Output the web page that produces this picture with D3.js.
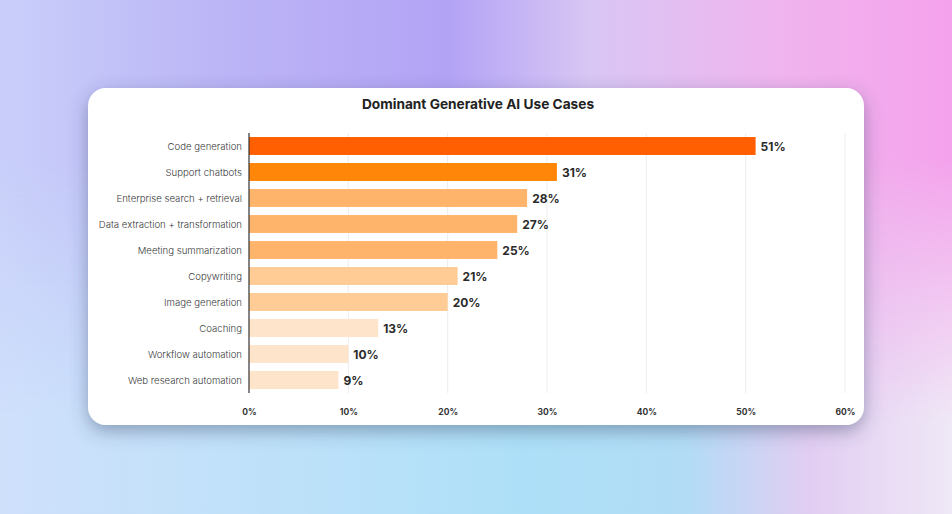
<!DOCTYPE html>
<html>
<head>
<meta charset="utf-8">
<script src="https://cdn.jsdelivr.net/npm/d3@7"></script>
<style>
  html, body { margin: 0; padding: 0; }
  body {
    width: 952px; height: 514px; overflow: hidden;
    background: #c9cffa;
    font-family: Inter, "Open Sans", sans-serif;
  }
</style>
</head>
<body>
<div id="chart"></div>
<script>
const categories = [
  "Code generation",
  "Support chatbots",
  "Enterprise search + retrieval",
  "Data extraction + transformation",
  "Meeting summarization",
  "Copywriting",
  "Image generation",
  "Coaching",
  "Workflow automation",
  "Web research automation"
];
const shares = [51, 31, 28, 27, 25, 21, 20, 13, 10, 9];
const barColors = [
  "#ff5f00", "#ff8608", "#ffb46c", "#ffb46c", "#ffb46c",
  "#ffcc96", "#ffcc96", "#fde4ca", "#fde4ca", "#fde4ca"
];
const xTicks = [0, 10, 20, 30, 40, 50, 60];
const title = "Dominant Generative AI Use Cases";

const data = categories.map((c, i) => ({ name: c, value: shares[i], color: barColors[i] }));

const width = 952, height = 514;
const card = { x: 88, y: 88, w: 776, h: 337, r: 18 };
const plot = { left: 249, right: 845, top: 133, bottom: 393 };

const svg = d3.select("#chart").append("svg")
  .attr("width", width)
  .attr("height", height)
  .style("display", "block");

const defs = svg.append("defs");

// background: top hues fading into bottom hues
const topGrad = defs.append("linearGradient").attr("id", "bgTop");
[["0%", "#c9cffa"], ["22%", "#bcb6f6"], ["47%", "#b3a3f5"], ["62%", "#d8c6f4"],
 ["82%", "#f0b4ee"], ["100%", "#f5a2ec"]]
  .forEach(([o, c]) => topGrad.append("stop").attr("offset", o).attr("stop-color", c));

const botGrad = defs.append("linearGradient").attr("id", "bgBot");
[["0%", "#cfe0fb"], ["30%", "#bde1f9"], ["55%", "#ade0f8"], ["72%", "#b2dcf6"],
 ["85%", "#e2cdf2"], ["100%", "#efe8f6"]]
  .forEach(([o, c]) => botGrad.append("stop").attr("offset", o).attr("stop-color", c));

const fade = defs.append("linearGradient").attr("id", "fade")
  .attr("x1", 0).attr("y1", 0).attr("x2", 0).attr("y2", 1);
fade.append("stop").attr("offset", "30%").attr("stop-color", "#fff").attr("stop-opacity", 0);
fade.append("stop").attr("offset", "82%").attr("stop-color", "#fff").attr("stop-opacity", 1);
defs.append("mask").attr("id", "fadeMask")
  .append("rect").attr("width", width).attr("height", height).attr("fill", "url(#fade)");

svg.append("rect").attr("width", width).attr("height", height).attr("fill", "url(#bgTop)");
svg.append("rect").attr("width", width).attr("height", height)
  .attr("fill", "url(#bgBot)").attr("mask", "url(#fadeMask)");

const shadow = defs.append("filter").attr("id", "shadow")
  .attr("x", "-10%").attr("y", "-10%").attr("width", "120%").attr("height", "140%");
shadow.append("feDropShadow")
  .attr("dx", 0).attr("dy", 6).attr("stdDeviation", 9)
  .attr("flood-color", "#3a4a6a").attr("flood-opacity", 0.45);

svg.append("rect")
  .attr("x", card.x).attr("y", card.y)
  .attr("width", card.w).attr("height", card.h)
  .attr("rx", card.r)
  .attr("fill", "#fff")
  .attr("filter", "url(#shadow)");

svg.append("text")
  .attr("x", 478).attr("y", 109)
  .attr("text-anchor", "middle")
  .style("font-size", "13.7px")
  .style("font-weight", 700)
  .style("fill", "#222")
  .text(title);

const xScale = d3.scaleLinear()
  .domain([0, 60])
  .range([plot.left, plot.right]);

const yScale = d3.scaleBand()
  .domain(categories)
  .range([plot.top, plot.bottom])
  .paddingInner(0.31)
  .paddingOuter(0.155);

// gridlines
svg.append("g")
  .selectAll("line")
  .data(xTicks.slice(1))
  .join("line")
    .attr("x1", d => xScale(d)).attr("x2", d => xScale(d))
    .attr("y1", plot.top).attr("y2", plot.bottom)
    .attr("stroke", "#ededed")
    .attr("stroke-width", 1);

// bars
svg.append("g")
  .selectAll("rect")
  .data(data)
  .join("rect")
    .attr("x", xScale(0))
    .attr("y", d => yScale(d.name))
    .attr("width", d => xScale(d.value) - xScale(0))
    .attr("height", yScale.bandwidth())
    .attr("fill", d => d.color);

// value labels
svg.append("g")
  .selectAll("text")
  .data(data)
  .join("text")
    .attr("x", d => xScale(d.value) + 5)
    .attr("y", d => yScale(d.name) + yScale.bandwidth() / 2 + 1)
    .attr("dy", "0.36em")
    .style("font-size", "12px")
    .style("font-weight", 700)
    .style("fill", "#2b2b2b")
    .text(d => d.value + "%");

// y axis
const yAxis = svg.append("g")
  .attr("transform", `translate(${plot.left},0)`)
  .call(d3.axisLeft(yScale).tickSize(0).tickPadding(7));
yAxis.select(".domain")
  .attr("d", `M0,${plot.top}V${plot.bottom}`)
  .attr("stroke", "#333")
  .attr("stroke-width", 1.2);
yAxis.selectAll(".tick text")
  .attr("dy", "0.42em")
  .style("font-family", "Inter, sans-serif")
  .style("font-size", "9.6px")
  .style("font-weight", 300)
  .style("fill", "#3a3a3a");

// x axis
const xAxis = svg.append("g")
  .attr("transform", `translate(0,${plot.bottom})`)
  .call(d3.axisBottom(xScale).tickValues(xTicks).tickSize(0).tickPadding(16).tickFormat(d => d + "%"));
xAxis.select(".domain").remove();
xAxis.selectAll("text")
  .style("font-family", "Inter, sans-serif")
  .style("font-size", "8.5px")
  .style("font-weight", 700)
  .style("fill", "#333");
</script>
</body>
</html>
